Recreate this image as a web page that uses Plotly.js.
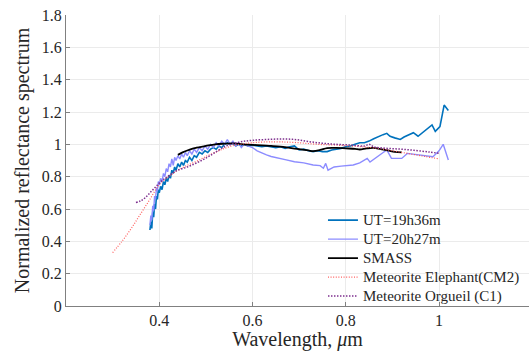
<!DOCTYPE html>
<html>
<head>
<meta charset="utf-8">
<script src="https://cdn.plot.ly/plotly-3.0.1.min.js"></script>
<style>html,body{margin:0;padding:0;background:#fff;}#chart{width:529px;height:351px;}</style>
</head>
<body>
<div id="chart"></div>
<script>
// UT=19h36m
const ut1X = [0.380,0.382,0.384,0.386,0.388,0.390,0.392,0.394,0.396,0.398,0.400,0.403,0.406,0.409,0.412,0.415,0.418,0.421,0.424,0.427,0.430,0.433,0.436,0.440,0.444,0.448,0.452,0.456,0.460,0.465,0.470,0.475,0.480,0.486,0.492,0.498,0.504,0.510,0.516,0.522,0.528,0.534,0.540,0.546,0.552,0.558,0.564,0.570,0.576,0.582,0.590,0.600,0.610,0.620,0.630,0.640,0.650,0.660,0.670,0.680,0.690,0.700,0.710,0.720,0.730,0.740,0.750,0.760,0.770,0.780,0.790,0.800,0.810,0.820,0.830,0.840,0.850,0.860,0.870,0.880,0.888,0.895,0.905,0.917,0.925,0.935,0.945,0.955,0.965,0.975,0.985,0.992,1.002,1.011,1.020];
const ut1Y = [0.47,0.52,0.48,0.58,0.55,0.63,0.60,0.68,0.66,0.72,0.70,0.74,0.72,0.77,0.75,0.79,0.77,0.81,0.79,0.84,0.82,0.86,0.84,0.88,0.86,0.89,0.87,0.90,0.89,0.92,0.90,0.93,0.92,0.95,0.94,0.96,0.95,0.97,0.98,0.97,0.99,0.98,1.00,1.01,1.00,1.01,0.99,1.00,0.99,1.00,0.99,0.995,0.99,0.985,0.99,0.985,0.98,0.985,0.975,0.985,0.99,0.965,0.97,0.96,0.955,0.96,0.955,0.955,0.965,0.97,0.975,0.985,0.99,1.00,1.01,1.01,1.02,1.035,1.05,1.06,1.068,1.05,1.04,1.03,1.045,1.06,1.072,1.05,1.075,1.10,1.12,1.08,1.11,1.243,1.21];
// UT=20h27m
const ut2X = [0.380,0.382,0.384,0.386,0.388,0.390,0.392,0.394,0.396,0.398,0.400,0.403,0.406,0.409,0.412,0.415,0.418,0.421,0.424,0.427,0.430,0.433,0.436,0.440,0.444,0.448,0.452,0.456,0.460,0.465,0.470,0.475,0.480,0.486,0.492,0.498,0.504,0.510,0.516,0.522,0.528,0.534,0.540,0.546,0.552,0.558,0.564,0.570,0.576,0.582,0.590,0.600,0.610,0.620,0.630,0.640,0.655,0.670,0.690,0.710,0.730,0.745,0.752,0.757,0.762,0.775,0.790,0.805,0.816,0.830,0.846,0.852,0.865,0.878,0.888,0.898,0.910,0.920,0.932,0.945,0.960,0.975,0.987,1.000,1.009,1.020];
const ut2Y = [0.50,0.56,0.53,0.62,0.59,0.68,0.66,0.73,0.71,0.77,0.75,0.79,0.77,0.82,0.80,0.85,0.83,0.88,0.86,0.91,0.87,0.92,0.90,0.93,0.91,0.94,0.92,0.95,0.93,0.96,0.94,0.97,0.95,0.98,0.96,0.99,0.97,1.00,0.98,1.01,0.99,1.02,1.00,1.03,1.00,1.02,0.99,1.01,0.98,1.00,0.99,0.98,0.96,0.946,0.935,0.925,0.913,0.905,0.892,0.885,0.872,0.868,0.852,0.882,0.84,0.86,0.865,0.87,0.872,0.885,0.913,0.89,0.92,0.945,0.966,0.913,0.913,0.913,0.944,0.94,0.934,0.93,0.923,0.96,1.0,0.903];
// SMASS
const smassX = [0.44,0.45,0.46,0.47,0.48,0.49,0.50,0.52,0.54,0.56,0.58,0.60,0.62,0.64,0.66,0.68,0.70,0.72,0.73,0.745,0.76,0.78,0.80,0.82,0.83,0.845,0.86,0.875,0.89,0.905,0.92];
const smassY = [0.935,0.95,0.962,0.972,0.979,0.985,0.99,1.0,1.004,1.006,1.0,0.997,0.993,0.99,0.986,0.978,0.97,0.962,0.958,0.965,0.977,0.978,0.975,0.972,0.968,0.975,0.978,0.97,0.963,0.953,0.95];
// Meteorite Elephant (CM2)
const elephX = [0.30,0.32,0.34,0.36,0.38,0.40,0.42,0.44,0.46,0.48,0.50,0.52,0.54,0.56,0.58,0.60,0.63,0.66,0.70,0.74,0.78,0.82,0.86,0.90,0.94,0.97,1.00];
const elephY = [0.33,0.40,0.48,0.57,0.66,0.75,0.80,0.84,0.87,0.895,0.925,0.95,0.975,0.993,1.003,1.01,1.015,1.015,1.01,1.0,0.995,0.988,0.978,0.96,0.94,0.925,0.91];
// Meteorite Orgueil (C1)
const orgX = [0.35,0.36,0.37,0.38,0.39,0.40,0.41,0.42,0.43,0.44,0.46,0.48,0.50,0.52,0.54,0.56,0.58,0.60,0.63,0.66,0.69,0.72,0.75,0.78,0.81,0.84,0.85,0.86,0.89,0.92,0.95,0.98,1.00];
const orgY = [0.64,0.65,0.67,0.70,0.73,0.76,0.785,0.805,0.825,0.84,0.86,0.885,0.915,0.95,0.985,1.005,1.018,1.025,1.03,1.033,1.03,1.017,1.007,1.0,0.996,0.99,1.0,0.985,0.975,0.97,0.962,0.952,0.945];

const names = ['UT=19h36m','UT=20h27m','SMASS','Meteorite Elephant(CM2)','Meteorite Orgueil (C1)'];
const xTicks = [0.4,0.6,0.8,1];
const xTickText = ['0.4','0.6','0.8','1'];
const yTicks = [0,0.2,0.4,0.6,0.8,1,1.2,1.4,1.6,1.8];
const yTickText = ['0','0.2','0.4','0.6','0.8','1','1.2','1.4','1.6','1.8'];

// legend label rendered larger than the legend row font to keep rows compact
const lbl = s => '<span style="font-size:15px">' + s + '</span>';

const traces = [
  {x: ut1X, y: ut1Y, name: lbl(names[0]), mode: 'lines', line: {color: '#0072BD', width: 1.6}},
  {x: ut2X, y: ut2Y, name: lbl(names[1]), mode: 'lines', line: {color: '#8C8CFF', width: 1.4}},
  {x: smassX, y: smassY, name: lbl(names[2]), mode: 'lines', line: {color: '#000000', width: 1.8, shape: 'spline'}},
  {x: elephX, y: elephY, name: lbl(names[3]), mode: 'lines', line: {color: '#FF5A5A', width: 1.2, dash: '1px,1.6px', shape: 'spline'}},
  {x: orgX, y: orgY, name: lbl(names[4]), mode: 'lines', line: {color: '#7E2F8E', width: 1.5, dash: '1.5px,1.5px', shape: 'spline'}}
];

const FAM = 'Liberation Serif';
const TXT = '#262626';

const layout = {
  width: 529, height: 351,
  margin: {l: 66, r: 0, t: 15, b: 45},
  paper_bgcolor: '#ffffff', plot_bgcolor: '#ffffff',
  font: {family: FAM, color: TXT, size: 16},
  showlegend: true,
  legend: {
    x: 0.555, y: 0.345, xanchor: 'left', yanchor: 'top',
    bgcolor: 'rgba(255,255,255,0)', borderwidth: 0,
    font: {family: FAM, color: TXT, size: 12},
    itemwidth: 30, tracegroupgap: 0
  },
  xaxis: {
    range: [0.2, 1.193], tickmode: 'array', tickvals: xTicks, ticktext: xTickText,
    showgrid: true, gridcolor: '#ebebeb', gridwidth: 1,
    showline: true, linecolor: '#808080', linewidth: 1,
    ticks: 'inside', ticklen: 4, tickcolor: '#808080',
    zeroline: false,
    tickfont: {family: FAM, color: TXT, size: 16},
    title: {text: 'Wavelength, <i>μ</i>m', font: {family: FAM, color: TXT, size: 20}, standoff: 13}
  },
  yaxis: {
    range: [0, 1.8], tickmode: 'array', tickvals: yTicks, ticktext: yTickText,
    showgrid: true, gridcolor: '#ebebeb', gridwidth: 1,
    showline: true, linecolor: '#808080', linewidth: 1,
    ticks: 'inside', ticklen: 4, tickcolor: '#808080',
    zeroline: false,
    tickfont: {family: FAM, color: TXT, size: 16},
    title: {text: 'Normalized reflectance spectrum', font: {family: FAM, color: TXT, size: 20}, standoff: 6}
  }
};

Plotly.newPlot('chart', traces, layout, {displayModeBar: false, staticPlot: true});
</script>
</body>
</html>
